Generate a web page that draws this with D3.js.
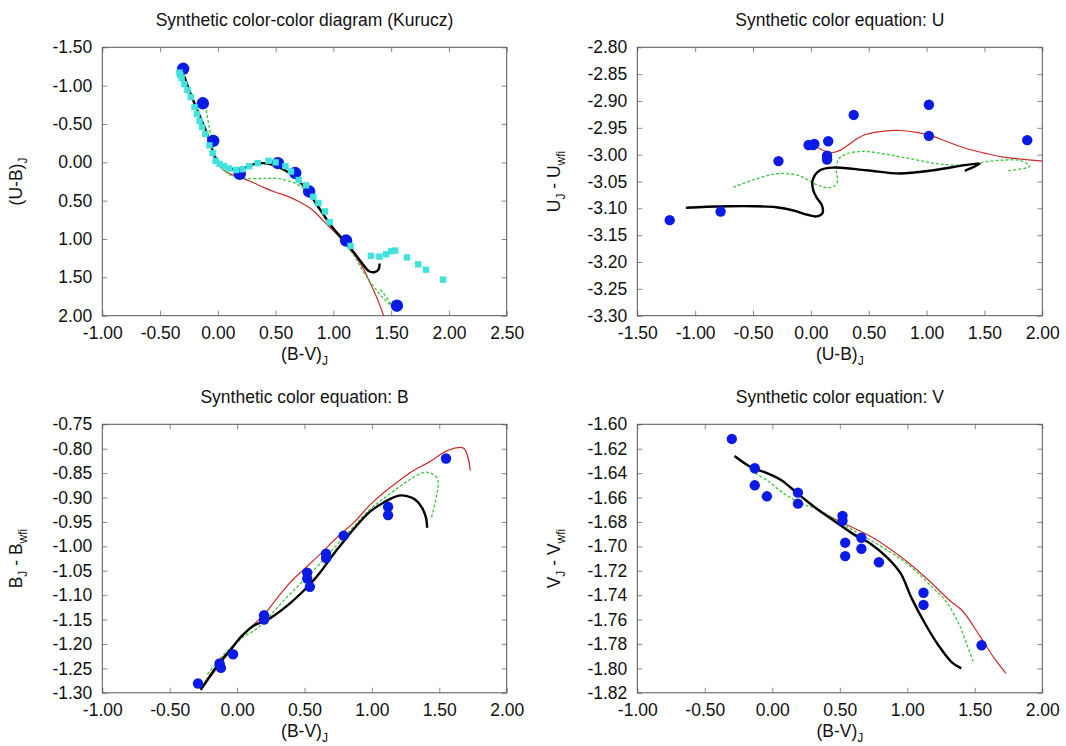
<!DOCTYPE html>
<html>
<head>
<meta charset="utf-8">
<script src="https://cdn.jsdelivr.net/npm/d3@7"></script>
<style>
  body { margin: 0; background: #fff; }
  svg { display: block; font-family: "Liberation Sans", Arial, Helvetica, sans-serif; }
</style>
</head>
<body>
<div id="vis"></div>
<script>
// ---- panel 1: colour-colour diagram ----
var ccStarsBV = [-0.30, -0.13, -0.04, 0.19, 0.52, 0.67, 0.79, 1.11, 1.55];
var ccStarsUB = [-1.22, -0.77, -0.28, 0.15, 0.01, 0.14, 0.38, 1.02, 1.87];
// standard sequence (cyan squares)
var stdBV = [-0.333, -0.325, -0.313, -0.29, -0.263, -0.234, -0.202, -0.181, -0.158, -0.137, -0.108, -0.073, -0.045,
  -0.02, 0.015, 0.053, 0.096, 0.155, 0.213, 0.272, 0.345, 0.439, 0.50, 0.585, 0.633, 0.70, 0.763, 0.826, 0.87,
  0.927, 0.968, 1.149, 1.325, 1.398, 1.456, 1.50, 1.535, 1.637, 1.734, 1.801, 1.95];
var stdUB = [-1.17, -1.14, -1.10, -1.02, -0.94, -0.85, -0.72, -0.63, -0.54, -0.46, -0.37, -0.22, -0.12,
  -0.02, 0.02, 0.05, 0.08, 0.10, 0.09, 0.05, 0.01, -0.02, 0.0, 0.05, 0.12, 0.23, 0.30, 0.45, 0.53,
  0.64, 0.78, 1.09, 1.22, 1.23, 1.20, 1.16, 1.15, 1.24, 1.33, 1.40, 1.53];
var ccBlack = [[-0.29, -1.12], [-0.25, -0.95], [-0.20, -0.76], [-0.15, -0.58], [-0.10, -0.40], [-0.06, -0.22], [-0.03, -0.09],
  [0.00, -0.01], [0.05, 0.05], [0.10, 0.08], [0.18, 0.09], [0.25, 0.06], [0.32, 0.02], [0.39, 0.01], [0.47, 0.03],
  [0.55, 0.08], [0.62, 0.14], [0.70, 0.24], [0.78, 0.38], [0.86, 0.56], [0.94, 0.74], [1.02, 0.90], [1.10, 1.03],
  [1.18, 1.18], [1.25, 1.32], [1.31, 1.42], [1.36, 1.43], [1.39, 1.40], [1.40, 1.32]];
var ccRed = [[-0.04, -0.10], [0.00, 0.02], [0.05, 0.10], [0.12, 0.16], [0.20, 0.20], [0.30, 0.26], [0.40, 0.33],
  [0.50, 0.39], [0.60, 0.44], [0.70, 0.51], [0.80, 0.60], [0.88, 0.71], [0.95, 0.82], [1.03, 0.94], [1.10, 1.06],
  [1.18, 1.20], [1.25, 1.36], [1.32, 1.58], [1.38, 1.78], [1.44, 2.02]];
var ccGreen = [[-0.10, -0.68], [-0.08, -0.50], [-0.06, -0.35], [-0.04, -0.18], [-0.02, -0.06], [0.05, 0.10], [0.13, 0.18],
  [0.25, 0.21], [0.42, 0.21], [0.51, 0.21], [0.60, 0.24], [0.68, 0.28], [0.74, 0.34], [0.80, 0.42], [0.88, 0.58],
  [0.95, 0.76], [1.02, 0.92], [1.10, 1.06], [1.18, 1.22], [1.24, 1.38], [1.30, 1.52], [1.38, 1.68], [1.45, 1.80],
  [1.50, 1.86], [1.44, 1.72], [1.40, 1.65]];

// ---- panel 2: U ----
var uStarsUB = [-1.22, -0.78, -0.28, -0.02, 0.02, 0.03, 0.15, 0.14, 0.14, 0.37, 1.02, 1.02, 1.87];
var uStarsDU = [-3.122, -3.106, -3.012, -2.982, -2.982, -2.980, -2.975, -3.002, -3.009, -2.926, -2.907, -2.965, -2.973];
var uBlack = [[-1.08, -3.099], [-0.90, -3.097], [-0.70, -3.096], [-0.50, -3.096], [-0.30, -3.098], [-0.15, -3.104],
  [-0.03, -3.112], [0.05, -3.115], [0.10, -3.109], [0.095, -3.094], [0.05, -3.080], [0.02, -3.066], [0.016, -3.047],
  [0.079, -3.029], [0.20, -3.024], [0.48, -3.029], [0.77, -3.035], [1.06, -3.029], [1.35, -3.019], [1.46, -3.017],
  [1.33, -3.030]];
var uGreen = [[-0.67, -3.061], [-0.50, -3.047], [-0.27, -3.035], [-0.09, -3.040], [0.02, -3.053], [0.12, -3.061],
  [0.19, -3.060], [0.23, -3.050], [0.22, -3.030], [0.24, -3.008], [0.30, -2.999], [0.45, -2.994], [0.62, -2.998],
  [0.77, -3.004], [0.92, -3.010], [1.06, -3.016], [1.20, -3.019], [1.35, -3.019], [1.52, -3.013], [1.68, -3.010],
  [1.81, -3.011], [1.89, -3.022], [1.69, -3.030]];
var uRed = [[0.06, -2.987], [0.13, -2.994], [0.19, -2.996], [0.25, -2.992], [0.31, -2.984], [0.40, -2.970], [0.48, -2.962],
  [0.60, -2.957], [0.77, -2.955], [0.90, -2.958], [1.03, -2.964], [1.18, -2.976], [1.35, -2.989], [1.50, -2.997],
  [1.65, -3.004], [1.80, -3.008], [2.00, -3.012]];

// ---- panel 3: B ----
var bStarsBV = [-0.29, -0.13, -0.12, -0.03, 0.20, 0.20, 0.52, 0.52, 0.54, 0.66, 0.66, 0.79, 1.12, 1.12, 1.55];
var bStarsDB = [-1.281, -1.240, -1.249, -1.221, -1.141, -1.150, -1.054, -1.066, -1.083, -1.015, -1.024, -0.978, -0.919, -0.936, -0.820];
var bBlack = [[-0.27, -1.294], [-0.20, -1.265], [-0.13, -1.238], [-0.05, -1.212], [0.03, -1.185], [0.12, -1.163],
  [0.24, -1.148], [0.37, -1.122], [0.49, -1.092], [0.54, -1.078], [0.62, -1.052], [0.66, -1.037], [0.74, -1.007],
  [0.79, -0.990], [0.87, -0.963], [0.99, -0.928], [1.10, -0.908], [1.20, -0.896], [1.26, -0.897], [1.32, -0.904],
  [1.37, -0.920], [1.40, -0.940], [1.41, -0.962]];
var bRed = [[-0.27, -1.294], [-0.10, -1.232], [0.05, -1.180], [0.20, -1.140], [0.30, -1.105], [0.40, -1.072],
  [0.50, -1.046], [0.62, -1.015], [0.74, -0.982], [0.87, -0.950], [0.99, -0.914], [1.10, -0.887], [1.20, -0.866],
  [1.30, -0.846], [1.42, -0.828], [1.57, -0.803], [1.68, -0.799], [1.73, -0.845]];
var bGreen = [[-0.22, -1.262], [-0.10, -1.222], [0.05, -1.185], [0.15, -1.168], [0.25, -1.140], [0.37, -1.104],
  [0.50, -1.068], [0.62, -1.034], [0.75, -0.994], [0.87, -0.958], [0.99, -0.923], [1.12, -0.895], [1.24, -0.871],
  [1.33, -0.855], [1.40, -0.848], [1.45, -0.852], [1.49, -0.864], [1.44, -0.943]];

// ---- panel 4: V ----
var vStarsBV = [-0.30, -0.13, -0.13, -0.04, 0.19, 0.19, 0.52, 0.52, 0.54, 0.54, 0.66, 0.66, 0.79, 1.12, 1.12, 1.55];
var vStarsDV = [-1.612, -1.636, -1.650, -1.659, -1.656, -1.665, -1.675, -1.679, -1.697, -1.708, -1.693, -1.702, -1.713, -1.738, -1.748, -1.781];
var vBlack = [[-0.28, -1.626], [-0.16, -1.635], [-0.04, -1.640], [0.07, -1.646], [0.19, -1.657], [0.34, -1.670],
  [0.47, -1.680], [0.60, -1.690], [0.73, -1.698], [0.85, -1.709], [0.95, -1.722], [1.03, -1.742], [1.13, -1.763],
  [1.23, -1.781], [1.33, -1.795], [1.40, -1.800]];
var vGreen = [[-0.16, -1.638], [-0.04, -1.646], [0.09, -1.657], [0.22, -1.665], [0.34, -1.670], [0.60, -1.687],
  [0.85, -1.703], [1.03, -1.717], [1.18, -1.733], [1.28, -1.744], [1.38, -1.763], [1.44, -1.780], [1.49, -1.795]];
var vRed = [[0.20, -1.658], [0.32, -1.669], [0.47, -1.678], [0.73, -1.692], [0.98, -1.711], [1.16, -1.728],
  [1.31, -1.744], [1.41, -1.753], [1.54, -1.774], [1.64, -1.791], [1.73, -1.804]];

// tick values
var ticksBV1 = [-1.0, -0.5, 0, 0.5, 1.0, 1.5, 2.0, 2.5];
var ticksUB1 = [-1.5, -1.0, -0.5, 0, 0.5, 1.0, 1.5, 2.0];
var ticksUB2 = [-1.5, -1.0, -0.5, 0, 0.5, 1.0, 1.5, 2.0];
var ticksDU = [-3.30, -3.25, -3.20, -3.15, -3.10, -3.05, -3.00, -2.95, -2.90, -2.85, -2.80];
var ticksBV = [-1.0, -0.5, 0, 0.5, 1.0, 1.5, 2.0];
var ticksDB = [-1.30, -1.25, -1.20, -1.15, -1.10, -1.05, -1.00, -0.95, -0.90, -0.85, -0.80, -0.75];
var ticksDV = [-1.82, -1.80, -1.78, -1.76, -1.74, -1.72, -1.70, -1.68, -1.66, -1.64, -1.62, -1.60];

var W = 1066, H = 746;
var fontSize = 17.5;
var blue = '#0b1be6', cyan = '#3fe2dc', red = '#cc2b2b', green = '#3cc43c';

var svg = d3.select('#vis').append('svg').attr('width', W).attr('height', H);

var fmt = function (d) { return d.toFixed(2); };

function zip(xs, ys) {
  return xs.map(function (x, i) { return [x, ys[i]]; });
}

function drawPanel(p) {
  var x = d3.scaleLinear().domain(p.xDomain).range([0, p.w]);
  var y = d3.scaleLinear().domain(p.yDomain).range(p.yFlip ? [0, p.h] : [p.h, 0]);

  var g = svg.append('g').attr('transform', 'translate(' + p.left + ',' + p.top + ')');

  g.append('clipPath').attr('id', p.id).append('rect').attr('width', p.w).attr('height', p.h);

  // axes with inside ticks
  var xa = g.append('g').attr('transform', 'translate(0,' + p.h + ')')
    .call(d3.axisBottom(x).tickValues(p.xTicks).tickFormat(fmt).tickSizeInner(-5).tickSizeOuter(0).tickPadding(11));
  var ya = g.append('g')
    .call(d3.axisLeft(y).tickValues(p.yTicks).tickFormat(fmt).tickSizeInner(-5).tickSizeOuter(0).tickPadding(10));
  g.append('g').call(d3.axisTop(x).tickValues(p.xTicks).tickFormat('').tickSizeInner(-5).tickSizeOuter(0));
  g.append('g').attr('transform', 'translate(' + p.w + ',0)')
    .call(d3.axisRight(y).tickValues(p.yTicks).tickFormat('').tickSizeInner(-5).tickSizeOuter(0));

  g.selectAll('.domain').remove();
  g.selectAll('.tick line').attr('stroke', '#8a8a8a');
  [xa, ya].forEach(function (a) {
    a.attr('font-size', null).attr('font-family', null);
    a.selectAll('text').attr('font-size', fontSize).attr('fill', '#111');
  });

  g.append('rect').attr('width', p.w).attr('height', p.h)
    .attr('fill', 'none').attr('stroke', '#555').attr('stroke-width', 1);

  var line = d3.line()
    .x(function (d) { return x(d[0]); })
    .y(function (d) { return y(d[1]); })
    .curve(d3.curveCatmullRom.alpha(0.5));

  var plot = g.append('g').attr('clip-path', 'url(#' + p.id + ')');

  plot.append('path').datum(p.red).attr('d', line)
    .attr('fill', 'none').attr('stroke', red).attr('stroke-width', 1.2);
  plot.append('path').datum(p.green).attr('d', line)
    .attr('fill', 'none').attr('stroke', green).attr('stroke-width', 1.3).attr('stroke-dasharray', '3,2');
  plot.append('path').datum(p.black).attr('d', line)
    .attr('fill', 'none').attr('stroke', '#000').attr('stroke-width', 2.4);

  g.append('g').selectAll('circle')
    .data(p.stars)
    .enter()
    .append('circle')
    .attr('cx', function (d) { return x(d[0]); })
    .attr('cy', function (d) { return y(d[1]); })
    .attr('r', p.r)
    .attr('fill', blue);

  if (p.squares) {
    g.append('g').selectAll('rect')
      .data(p.squares)
      .enter()
      .append('rect')
      .attr('x', function (d) { return x(d[0]) - 3.2; })
      .attr('y', function (d) { return y(d[1]) - 3.2; })
      .attr('width', 6.4)
      .attr('height', 6.4)
      .attr('fill', cyan);
  }

  // title
  g.append('text')
    .attr('x', p.w / 2)
    .attr('y', -21)
    .attr('text-anchor', 'middle')
    .attr('font-size', fontSize)
    .attr('fill', '#111')
    .text(p.title);

  // x label
  var xl = g.append('text')
    .attr('x', p.w / 2)
    .attr('y', p.h + 44)
    .attr('text-anchor', 'middle')
    .attr('font-size', fontSize)
    .attr('fill', '#111');
  addLabel(xl, p.xLabel);

  // y label
  var yl = g.append('text')
    .attr('transform', 'translate(' + p.yLabelX + ',' + p.h / 2 + ') rotate(-90)')
    .attr('text-anchor', 'middle')
    .attr('font-size', fontSize)
    .attr('fill', '#111');
  addLabel(yl, p.yLabel);
}

// label parts: [text, isSubscript]
function addLabel(sel, parts) {
  parts.forEach(function (part) {
    var t = sel.append('tspan').text(part[0]);
    if (part[1]) {
      t.attr('font-size', 12).attr('dy', 5);
    } else {
      t.attr('dy', sel.selectAll('tspan').size() > 1 ? -5 : 0);
    }
  });
}

drawPanel({
  id: 'clip1', left: 102.3, top: 47.3, w: 404.4, h: 268.4,
  xDomain: [-1.0, 2.5], yDomain: [-1.5, 2.0], yFlip: true,
  xTicks: ticksBV1, yTicks: ticksUB1,
  stars: zip(ccStarsBV, ccStarsUB), squares: zip(stdBV, stdUB), r: 6.2,
  black: ccBlack, red: ccRed, green: ccGreen,
  title: 'Synthetic color-color diagram (Kurucz)',
  xLabel: [['(B-V)', false], ['J', true]],
  yLabel: [['(U-B)', false], ['J', true]],
  yLabelX: -80
});

drawPanel({
  id: 'clip2', left: 637.3, top: 47.3, w: 405, h: 268.4,
  xDomain: [-1.5, 2.0], yDomain: [-3.30, -2.80], yFlip: false,
  xTicks: ticksUB2, yTicks: ticksDU,
  stars: zip(uStarsUB, uStarsDU), r: 5.2,
  black: uBlack, red: uRed, green: uGreen,
  title: 'Synthetic color equation: U',
  xLabel: [['(U-B)', false], ['J', true]],
  yLabel: [['U', false], ['J', true], [' - U', false], ['wfi', true]],
  yLabelX: -77
});

drawPanel({
  id: 'clip3', left: 102.3, top: 424.3, w: 404.4, h: 268.5,
  xDomain: [-1.0, 2.0], yDomain: [-1.30, -0.75], yFlip: false,
  xTicks: ticksBV, yTicks: ticksDB,
  stars: zip(bStarsBV, bStarsDB), r: 5.2,
  black: bBlack, red: bRed, green: bGreen,
  title: 'Synthetic color equation: B',
  xLabel: [['(B-V)', false], ['J', true]],
  yLabel: [['B', false], ['J', true], [' - B', false], ['wfi', true]],
  yLabelX: -80
});

drawPanel({
  id: 'clip4', left: 637.3, top: 424.3, w: 405, h: 268.5,
  xDomain: [-1.0, 2.0], yDomain: [-1.82, -1.60], yFlip: false,
  xTicks: ticksBV, yTicks: ticksDV,
  stars: zip(vStarsBV, vStarsDV), r: 5.2,
  black: vBlack, red: vRed, green: vGreen,
  title: 'Synthetic color equation: V',
  xLabel: [['(B-V)', false], ['J', true]],
  yLabel: [['V', false], ['J', true], [' - V', false], ['wfi', true]],
  yLabelX: -77
});
</script>
</body>
</html>
